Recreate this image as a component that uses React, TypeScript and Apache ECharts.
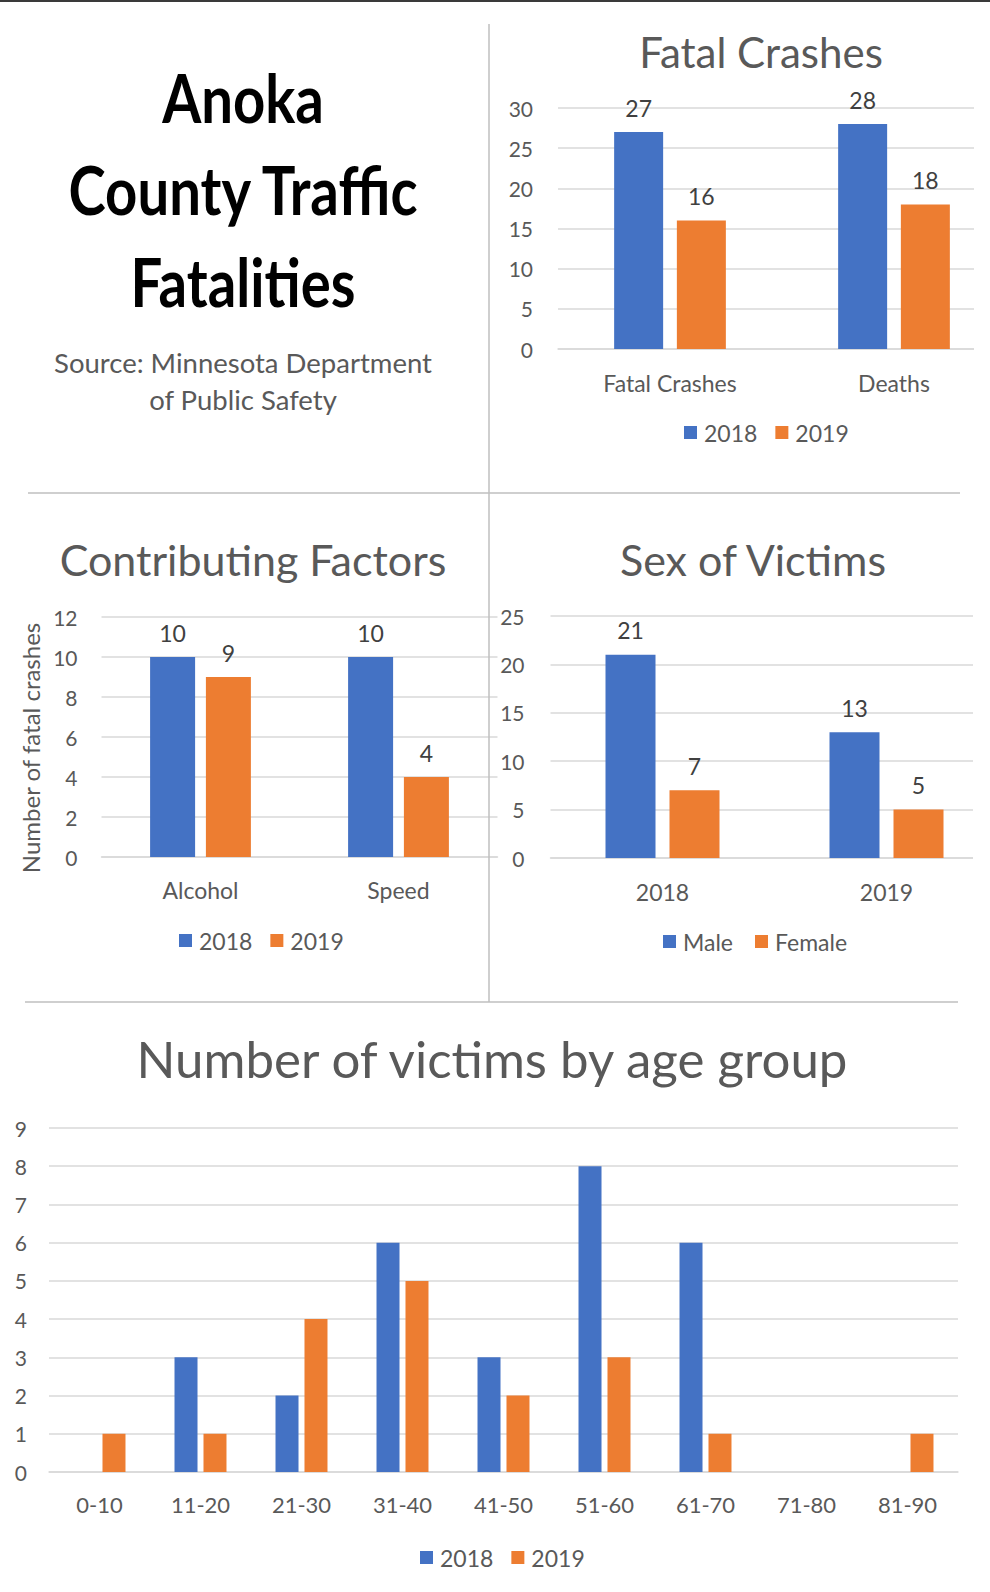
import React, { useEffect, useRef } from "react";
import * as echarts from "echarts";

const crashCategories = ["Fatal Crashes", "Deaths"];
const crash2018 = [27, 28];
const crash2019 = [16, 18];

const factorCategories = ["Alcohol", "Speed"];
const factor2018 = [10, 10];
const factor2019 = [9, 4];

const sexCategories = ["2018", "2019"];
const maleVictims = [21, 13];
const femaleVictims = [7, 5];

const ageCategories = ["0-10", "11-20", "21-30", "31-40", "41-50", "51-60", "61-70", "71-80", "81-90"];
const age2018 = [0, 3, 2, 6, 3, 8, 6, 0, 0];
const age2019 = [1, 1, 4, 5, 2, 3, 1, 0, 1];

const BLUE = "#4472C4";
const ORANGE = "#ED7D31";
const GRAY = "#595959";
const LINE = "#D9D9D9";
const FONT = "Lato, 'Open Sans', sans-serif";

function yAxis(gridIndex: number, max: number, interval: number, margin: number) {
  return {
    type: "value",
    gridIndex,
    min: 0,
    max,
    interval,
    axisLine: { show: false },
    axisTick: { show: false },
    axisLabel: { color: GRAY, fontSize: 21, fontFamily: FONT, margin },
    splitLine: { lineStyle: { color: LINE, width: 1.5 } },
  };
}

function xAxis(gridIndex: number, data: string[], margin: number, fontSize: number) {
  return {
    type: "category",
    gridIndex,
    data,
    axisLine: { show: true, lineStyle: { color: LINE, width: 1.5 } },
    axisTick: { show: false },
    axisLabel: { color: GRAY, fontSize, fontFamily: FONT, margin, interval: 0 },
  };
}

function bar(name: string, data: number[], color: string, idx: number, width: number, gap: string, labels: boolean) {
  return {
    type: "bar",
    name,
    data,
    xAxisIndex: idx,
    yAxisIndex: idx,
    barWidth: width,
    barGap: gap,
    itemStyle: { color },
    label: {
      show: labels,
      position: "top",
      distance: 13,
      color: "#404040",
      fontSize: 23,
      fontFamily: FONT,
    },
  };
}

function legend(data: string[], left: number, top: number, gap: number) {
  return {
    data,
    left,
    top,
    icon: "rect",
    itemWidth: 13,
    itemHeight: 13,
    itemGap: gap,
    padding: 0,
    selectedMode: false,
    textStyle: { color: GRAY, fontSize: 23, fontFamily: FONT, padding: [0, 0, 0, 2] },
  };
}

function txt(text: string, x: number, y: number, fontSize: number, opts: any = {}) {
  return {
    type: "text",
    x,
    y,
    scaleX: opts.scaleX ?? 1,
    rotation: opts.rotation ?? 0,
    z: 10,
    style: {
      text,
      fontSize,
      fontFamily: FONT,
      fontWeight: opts.bold ? "bold" : "normal",
      fill: opts.color ?? GRAY,
      align: "center",
      verticalAlign: "middle",
      textAlign: "center",
      textVerticalAlign: "middle",
    },
  };
}

function line(x1: number, y1: number, x2: number, y2: number, color: string, w: number) {
  return {
    type: "line",
    z: 10,
    shape: { x1, y1, x2, y2 },
    style: { stroke: color, lineWidth: w },
  };
}

export default function App() {
  const ref = useRef<HTMLDivElement>(null);
  useEffect(() => {
    if (!ref.current) return;
    const chart = echarts.init(ref.current, undefined, { renderer: "svg" });
    chart.setOption({
      animation: false,
      backgroundColor: "#ffffff",
      grid: [
        { left: 558, top: 108, width: 448, height: 241 },
        { left: 101.5, top: 617, width: 396, height: 240 },
        { left: 550.5, top: 616, width: 448, height: 242 },
        { left: 49, top: 1128, width: 909, height: 344 },
      ],
      xAxis: [
        xAxis(0, crashCategories, 22, 23),
        xAxis(1, factorCategories, 21, 23),
        xAxis(2, sexCategories, 22, 23),
        xAxis(3, ageCategories, 21, 22),
      ],
      yAxis: [
        yAxis(0, 30, 5, 25),
        yAxis(1, 12, 2, 24),
        yAxis(2, 25, 5, 26),
        yAxis(3, 9, 1, 22),
      ],
      legend: [
        legend(["2018", "2019"], 684, 421, 18),
        legend(["2018", "2019"], 179, 929, 18),
        legend(["Male", "Female"], 663, 930, 22),
        legend(["2018", "2019"], 420, 1546, 18),
      ],
      series: [
        bar("2018", crash2018, BLUE, 0, 49, "28%", true),
        bar("2019", crash2019, ORANGE, 0, 49, "28%", true),
        bar("2018", factor2018, BLUE, 1, 45, "24%", true),
        bar("2019", factor2019, ORANGE, 1, 45, "24%", true),
        bar("Male", maleVictims, BLUE, 2, 50, "28%", true),
        bar("Female", femaleVictims, ORANGE, 2, 50, "28%", true),
        bar("2018", age2018, BLUE, 3, 23, "26%", false),
        bar("2019", age2019, ORANGE, 3, 23, "26%", false),
      ],
      graphic: [
        { type: "rect", z: 9, shape: { x: 974, y: 95, width: 80, height: 265 }, style: { fill: "#ffffff" } },
        { type: "rect", z: 9, shape: { x: 973, y: 605, width: 80, height: 265 }, style: { fill: "#ffffff" } },
        line(0, 1, 990, 1, "#3a3a3a", 2),
        line(489, 24, 489, 1002, "#BFBFBF", 1.5),
        line(28, 493, 960, 493, "#BFBFBF", 1.5),
        line(25, 1002, 958, 1002, "#BFBFBF", 1.5),
        txt("Anoka", 243, 97, 67, { bold: true, color: "#000000", scaleX: 0.84 }),
        txt("County Traffic", 243, 189, 67, { bold: true, color: "#000000", scaleX: 0.84 }),
        txt("Fatalities", 243, 281, 67, { bold: true, color: "#000000", scaleX: 0.84 }),
        txt("Source: Minnesota Department", 243, 362, 27.5),
        txt("of Public Safety", 243, 399, 27.5),
        txt("Fatal Crashes", 761, 52, 42),
        txt("Contributing Factors", 253, 559, 43),
        txt("Sex of Victims", 753, 559, 43),
        txt("Number of victims by age group", 492, 1058, 51),
        txt("Number of fatal crashes", 30, 748, 24, { rotation: Math.PI / 2 }),
      ],
    });
    return () => chart.dispose();
  }, []);
  return (
    <div style={{ position: "absolute", left: 0, top: 0, width: 990, height: 1592, overflow: "hidden", background: "#fff" }}>
      <div ref={ref} style={{ width: 1050, height: 1592 }} />
    </div>
  );
}
